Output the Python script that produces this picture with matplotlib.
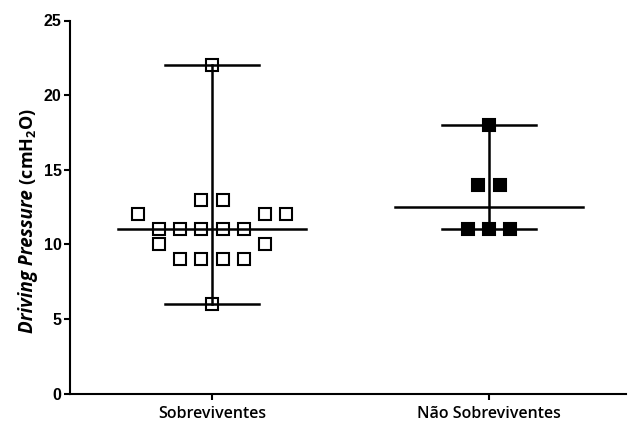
import numpy as np
import matplotlib
matplotlib.use('Agg')
import matplotlib.pyplot as plt
from matplotlib.transforms import offset_copy

# dados (cmH2O)
grupos = ['Sobreviventes', 'Não Sobreviventes']
sobrev = [22, 13, 13, 12, 12, 12, 11, 11, 11, 11, 11, 10, 10, 9, 9, 9, 9, 6]
nao_sobrev = [18, 14, 14, 11, 11, 11]

# deslocamento horizontal de cada ponto (em larguras de marcador), como no GraphPad
sobrev_slots = [0, -0.5, 0.5, -3.5, 2.5, 3.5, -2.5, -1.5, -0.5, 0.5, 1.5,
                -2.5, 2.5, -1.5, -0.5, 0.5, 1.5, 0]
nao_slots = [0, -0.5, 0.5, -1, 0, 1]

yticks = [0, 5, 10, 15, 20, 25]

plt.rcParams['mathtext.fontset'] = 'custom'
plt.rcParams['mathtext.rm'] = 'Open Sans:bold'
plt.rcParams['mathtext.bf'] = 'Open Sans:bold'

fig = plt.figure(figsize=(6.28, 4.25), dpi=100)
ax = fig.add_axes([70 / 628, 31.5 / 425, 556 / 628, 373 / 425])

spacing = 0.0765
med_half = 0.339
cap_half = 0.168

series = [(sobrev, sobrev_slots, 'none'), (nao_sobrev, nao_slots, 'black')]
for i, (vals, slots, face) in enumerate(series):
    vals = np.array(vals, dtype=float)
    xs = i + np.array(slots) * spacing
    med = np.median(vals)
    lo, hi = vals.min(), vals.max()
    ax.plot([i, i], [lo, hi], color='black', lw=1.8, zorder=2)
    ax.plot([i - cap_half, i + cap_half], [lo, lo], color='black', lw=1.8, zorder=2)
    ax.plot([i - cap_half, i + cap_half], [hi, hi], color='black', lw=1.8, zorder=2)
    ax.plot([i - med_half, i + med_half], [med, med], color='black', lw=1.8, zorder=2)
    ax.plot(xs, vals, 's', ms=9.3, mfc=face, mec='black', mew=1.5,
            zorder=3, clip_on=False)

ax.set_xlim(-0.5126, 1.4946)
ax.set_ylim(0, 25)
ax.set_yticks(yticks)
ax.set_yticklabels([str(t) for t in yticks], fontfamily='Liberation Sans',
                   fontweight='bold', fontsize=11.5)
ax.set_xticks([0, 1])
ax.set_xticklabels(grupos, fontfamily='Open Sans', fontweight='semibold', fontsize=11.5)

for s in ['top', 'right']:
    ax.spines[s].set_visible(False)
for s in ['left', 'bottom']:
    ax.spines[s].set_linewidth(1.5)
ax.tick_params(axis='both', length=4, width=1.5, color='black')
ax.tick_params(axis='y', pad=2)
ax.tick_params(axis='x', pad=5)

# rótulo do eixo y em duas partes: itálico + unidade
x_lab = 28 / 628
y_start = 333 / 425
t1 = fig.text(x_lab, 1 - y_start, 'Driving Pressure', rotation=90,
              ha='center', va='bottom', fontfamily='Open Sans',
              fontweight='bold', fontstyle='italic', fontsize=13.5)
fig.canvas.draw()
h1 = t1.get_window_extent().height
t2 = fig.text(x_lab, 1 - y_start, ' (cmH$_\\mathrm{2}$O)', rotation=90,
              ha='center', va='bottom', fontfamily='Open Sans',
              fontweight='bold', fontsize=13,
              transform=offset_copy(fig.transFigure, fig=fig, y=h1, units='dots'))

fig.savefig('out.png', dpi=100)
